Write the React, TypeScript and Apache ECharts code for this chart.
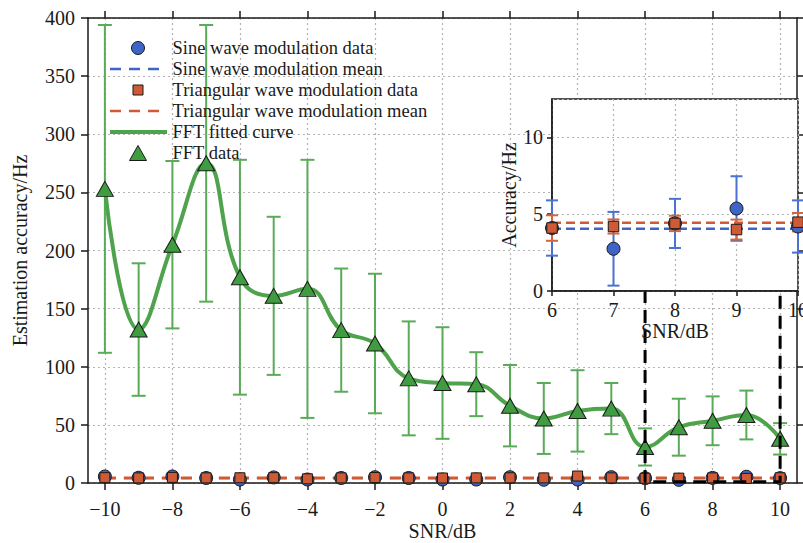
import React, { useEffect, useRef } from 'react';
import * as echarts from 'echarts';

// ---------- data ----------
const snr = [-10, -9, -8, -7, -6, -5, -4, -3, -2, -1, 0, 1, 2, 3, 4, 5, 6, 7, 8, 9, 10];
const fftData = [253, 132, 205, 275, 177, 161, 167, 131.5, 120, 90, 86, 85, 66.5, 55.5, 62, 64, 31, 48, 53.5, 58.5, 38];
const fftErr = [141, 57, 72, 119, 101, 68, 111, 53, 60, 49, 48, 27.5, 35, 30.5, 35, 22, 16, 24.5, 21, 21, 13.5];
const sineData = [5.6, 4.5, 5.6, 4.3, 3.0, 4.8, 3.0, 4.3, 5.0, 4.3, 3.0, 3.0, 5.0, 2.8, 3.0, 5.0, 4.1, 2.75, 4.4, 5.37, 4.2];
const sineErr = [1.7, 1.9, 1.6, 2.0, 1.8, 1.5, 2.1, 1.7, 1.9, 1.6, 2.0, 1.8, 1.7, 2.2, 1.9, 1.6, 1.8, 2.4, 1.6, 2.1, 1.7];
const triData = [4.6, 4.4, 4.8, 4.4, 4.5, 4.6, 3.6, 4.4, 4.7, 4.4, 4.3, 4.4, 4.5, 4.4, 6.0, 4.4, 4.1, 4.2, 4.4, 4.0, 4.48];
const triErr = [0.6, 0.7, 0.5, 0.6, 0.8, 0.6, 0.7, 0.5, 0.6, 0.7, 0.6, 0.5, 0.7, 0.6, 0.8, 0.6, 0.83, 0.46, 0.5, 0.65, 0.6];
const sineMean = 4.06;
const triMean = 4.45;

const mainXTicks = [-10, -8, -6, -4, -2, 0, 2, 4, 6, 8, 10];
const mainXRange = [-10.5, 10.5];
const mainYRange = [0, 400];
const insetX = [6, 7, 8, 9, 10];
const insetYRange = [0, 12.5];
const zoomBoxX = [6, 10];
const zoomBoxY = [1, 166];

const legendLabels = [
  'Sine wave modulation data',
  'Sine wave modulation mean',
  'Triangular wave modulation data',
  'Triangular wave modulation mean',
  'FFT fitted curve',
  'FFT data',
];

// ---------- styles ----------
const FONT = 'Liberation Serif';
const TXT = '#1a1a1a';
const BLUE = '#3e64c6';
const BLUE_ERR = '#4a72d2';
const ORANGE = '#cf5a34';
const ORANGE_ERR = '#d4643f';
const GREEN = '#409c40';
const GREEN_CURVE = '#4fa34c';
const GREEN_ERR = '#5aab58';
const GRID = '#b4b4b4';

const minusFmt = (v: number) => (v < 0 ? '\u2212' + Math.abs(v) : String(v));

const errRender = (color: string, capHalf: number, width: number) => (params: any, api: any) => {
  const x = api.value(0);
  const lo = api.value(1);
  const hi = api.value(2);
  const t = api.coord([x, hi]);
  const b = api.coord([x, lo]);
  const style = { stroke: color, lineWidth: width };
  return {
    type: 'group',
    children: [
      { type: 'line', shape: { x1: t[0], y1: t[1], x2: b[0], y2: b[1] }, style },
      { type: 'line', shape: { x1: t[0] - capHalf, y1: t[1], x2: t[0] + capHalf, y2: t[1] }, style },
      { type: 'line', shape: { x1: b[0] - capHalf, y1: b[1], x2: b[0] + capHalf, y2: b[1] }, style },
    ],
  };
};

const errData = (vals: number[], errs: number[], filter?: (x: number) => boolean) =>
  snr
    .map((x, i) => [x, vals[i] - errs[i], vals[i] + errs[i]])
    .filter((d) => (filter ? filter(d[0]) : true));

const pts = (vals: number[], filter?: (x: number) => boolean) =>
  snr.map((x, i) => [x, vals[i]]).filter((d) => (filter ? filter(d[0]) : true));

const inInset = (x: number) => x >= insetX[0] && x <= insetX[insetX.length - 1];

const axisLine = { show: true, onZero: false, lineStyle: { color: TXT, width: 1.5 } };
const splitDotted = { show: true, lineStyle: { color: GRID, type: [2, 3], width: 1.2 } };
const labelStyle = { fontFamily: FONT, fontSize: 20, color: TXT };

export default function App() {
  const ref = useRef<HTMLDivElement>(null);
  useEffect(() => {
    if (!ref.current) return;
    const chart = echarts.init(ref.current, undefined, { renderer: 'svg' });

    const legendRowY = [48, 69, 90, 111, 132, 153];
    const lx = 138;
    const graphicEls: any[] = [];
    graphicEls.push({ type: 'circle', shape: { cx: lx, cy: legendRowY[0], r: 6.5 }, style: { fill: BLUE, stroke: TXT, lineWidth: 1 }, z: 100 });
    graphicEls.push({ type: 'line', shape: { x1: 110, y1: legendRowY[1], x2: 167, y2: legendRowY[1] }, style: { stroke: BLUE, lineWidth: 2.5, lineDash: [11, 8] }, z: 100 });
    graphicEls.push({ type: 'rect', shape: { x: lx - 5, y: legendRowY[2] - 5, width: 10, height: 10 }, style: { fill: ORANGE, stroke: TXT, lineWidth: 1 }, z: 100 });
    graphicEls.push({ type: 'line', shape: { x1: 110, y1: legendRowY[3], x2: 167, y2: legendRowY[3] }, style: { stroke: ORANGE, lineWidth: 2.5, lineDash: [11, 8] }, z: 100 });
    graphicEls.push({ type: 'line', shape: { x1: 110, y1: legendRowY[4], x2: 167, y2: legendRowY[4] }, style: { stroke: GREEN_CURVE, lineWidth: 4 }, z: 100 });
    graphicEls.push({ type: 'polygon', shape: { points: [[lx - 8.5, legendRowY[5] + 7.5], [lx + 8.5, legendRowY[5] + 7.5], [lx, legendRowY[5] - 7.5]] }, style: { fill: GREEN, stroke: TXT, lineWidth: 1 }, z: 100 });
    legendLabels.forEach((t, i) => {
      graphicEls.push({
        type: 'text',
        x: 172.5,
        y: legendRowY[i],
        style: { text: t, fontFamily: FONT, fontSize: 18.5, fill: TXT, verticalAlign: 'middle', align: 'left' },
        z: 100,
      });
    });

    const option: any = {
      animation: false,
      backgroundColor: '#fff',
      grid: [
        { left: 88, right: 6, top: 18, bottom: 60, show: false, outerBoundsMode: 'none', containLabel: false },
        { left: 552, right: 5, top: 99, height: 192, show: true, backgroundColor: '#fff', borderColor: TXT, borderWidth: 1.5, z: 10, outerBoundsMode: 'none', containLabel: false },
      ],
      xAxis: [
        {
          gridIndex: 0, type: 'value', min: mainXRange[0], max: mainXRange[1], position: 'bottom',
          axisLine, axisTick: { show: true, inside: false, length: 7, customValues: mainXTicks, lineStyle: { color: TXT, width: 1.5 } },
          axisLabel: { ...labelStyle, customValues: mainXTicks, formatter: minusFmt, margin: 16 },
          splitLine: splitDotted,
          name: 'SNR/dB', nameLocation: 'middle', nameGap: 38, nameMoveOverlap: false, nameTextStyle: { ...labelStyle, lineHeight: 20 },
        },
        {
          gridIndex: 0, type: 'value', min: mainXRange[0], max: mainXRange[1], position: 'top',
          axisLine, axisTick: { show: true, inside: false, length: 7, customValues: mainXTicks, lineStyle: { color: TXT, width: 1.5 } },
          axisLabel: { show: false, customValues: mainXTicks }, splitLine: { show: false },
        },
        {
          gridIndex: 1, type: 'value', min: insetX[0], max: insetX[insetX.length - 1], interval: 1, position: 'bottom', z: 11,
          axisLine, axisTick: { show: true, inside: false, length: 5, lineStyle: { color: TXT, width: 1.5 } },
          axisLabel: { ...labelStyle, margin: 9 },
          splitLine: splitDotted,
          name: 'SNR/dB', nameLocation: 'middle', nameGap: 29, nameTextStyle: labelStyle,
        },
      ],
      yAxis: [
        {
          gridIndex: 0, type: 'value', min: mainYRange[0], max: mainYRange[1], interval: 50, position: 'left',
          axisLine, axisTick: { show: true, inside: false, length: 7, lineStyle: { color: TXT, width: 1.5 } },
          axisLabel: { ...labelStyle, margin: 13 },
          splitLine: splitDotted,
          name: 'Estimation accuracy/Hz', nameLocation: 'middle', nameGap: 58, nameTextStyle: labelStyle,
        },
        {
          gridIndex: 0, type: 'value', min: mainYRange[0], max: mainYRange[1], interval: 50, position: 'right',
          axisLine, axisTick: { show: true, inside: false, length: 7, lineStyle: { color: TXT, width: 1.5 } },
          axisLabel: { show: false }, splitLine: { show: false },
        },
        {
          gridIndex: 1, type: 'value', min: insetYRange[0], max: insetYRange[1], interval: 5, position: 'left', z: 11,
          axisLine, axisTick: { show: true, inside: false, length: 5, lineStyle: { color: TXT, width: 1.5 } },
          axisLabel: { ...labelStyle, margin: 9, showMaxLabel: false, formatter: (v: number) => (v % 5 === 0 ? String(v) : '') },
          splitLine: splitDotted,
          name: 'Accuracy/Hz', nameLocation: 'middle', nameGap: 27, nameTextStyle: labelStyle,
        },
      ],
      series: [
        // ----- main -----
        { type: 'custom', xAxisIndex: 0, yAxisIndex: 0, renderItem: errRender(BLUE_ERR, 6, 1.5), data: errData(sineData, sineErr), encode: { x: 0, y: [1, 2] }, z: 2, silent: true },
        { type: 'custom', xAxisIndex: 0, yAxisIndex: 0, renderItem: errRender(ORANGE_ERR, 6, 1.5), data: errData(triData, triErr), encode: { x: 0, y: [1, 2] }, z: 2, silent: true },
        { type: 'custom', xAxisIndex: 0, yAxisIndex: 0, renderItem: errRender(GREEN_ERR, 7, 2), data: errData(fftData, fftErr), encode: { x: 0, y: [1, 2] }, z: 2, silent: true },
        { type: 'line', xAxisIndex: 0, yAxisIndex: 0, data: [[snr[0], sineMean], [snr[snr.length - 1], sineMean]], symbol: 'none', lineStyle: { color: BLUE, width: 2.5, type: [11, 8] }, z: 3 },
        { type: 'scatter', xAxisIndex: 0, yAxisIndex: 0, data: pts(sineData), symbol: 'circle', symbolSize: 13, itemStyle: { color: BLUE, borderColor: TXT, borderWidth: 1, opacity: 1 }, z: 4 },
        { type: 'scatter', xAxisIndex: 0, yAxisIndex: 0, data: pts(triData), symbol: 'rect', symbolSize: 10, itemStyle: { color: ORANGE, borderColor: TXT, borderWidth: 1, opacity: 1 }, z: 4 },
        { type: 'line', xAxisIndex: 0, yAxisIndex: 0, data: [[snr[0], triMean], [snr[snr.length - 1], triMean]], symbol: 'none', lineStyle: { color: ORANGE, width: 2.5, type: [11, 8] }, z: 4 },
        { type: 'line', xAxisIndex: 0, yAxisIndex: 0, data: pts(fftData), smooth: 0.45, symbol: 'none', lineStyle: { color: GREEN_CURVE, width: 4 }, z: 4 },
        { type: 'scatter', xAxisIndex: 0, yAxisIndex: 0, data: pts(fftData), symbol: 'triangle', symbolSize: [17, 15], itemStyle: { color: GREEN, borderColor: TXT, borderWidth: 1, opacity: 1 }, z: 5 },
        {
          type: 'line', xAxisIndex: 0, yAxisIndex: 0,
          data: [[zoomBoxX[0], zoomBoxY[1]], [zoomBoxX[0], zoomBoxY[0]], [zoomBoxX[1], zoomBoxY[0]], [zoomBoxX[1], zoomBoxY[1]]],
          symbol: 'none', lineStyle: { color: '#000', width: 3, type: [13, 7] }, z: 6, clip: false,
        },
        // ----- inset -----
        { type: 'line', xAxisIndex: 2, yAxisIndex: 2, data: [[insetX[0], sineMean], [insetX[insetX.length - 1], sineMean]], symbol: 'none', lineStyle: { color: BLUE, width: 2.5, type: [9, 5] }, z: 12 },
        { type: 'line', xAxisIndex: 2, yAxisIndex: 2, data: [[insetX[0], triMean], [insetX[insetX.length - 1], triMean]], symbol: 'none', lineStyle: { color: ORANGE, width: 2.5, type: [9, 5] }, z: 12 },
        { type: 'custom', xAxisIndex: 2, yAxisIndex: 2, renderItem: errRender(BLUE_ERR, 6, 2), data: errData(sineData, sineErr, inInset), encode: { x: 0, y: [1, 2] }, z: 13, clip: false, silent: true },
        { type: 'custom', xAxisIndex: 2, yAxisIndex: 2, renderItem: errRender(ORANGE_ERR, 6, 2), data: errData(triData, triErr, inInset), encode: { x: 0, y: [1, 2] }, z: 13, clip: false, silent: true },
        { type: 'scatter', xAxisIndex: 2, yAxisIndex: 2, data: pts(sineData, inInset), symbol: 'circle', symbolSize: 13, itemStyle: { color: BLUE, borderColor: TXT, borderWidth: 1, opacity: 1 }, z: 14, clip: false },
        { type: 'scatter', xAxisIndex: 2, yAxisIndex: 2, data: pts(triData, inInset), symbol: 'rect', symbolSize: 10.5, itemStyle: { color: ORANGE, borderColor: TXT, borderWidth: 1, opacity: 1 }, z: 14, clip: false },
      ],
      graphic: graphicEls,
    };
    chart.setOption(option);
    return () => chart.dispose();
  }, []);
  return <div ref={ref} style={{ position: 'absolute', left: 0, top: 0, width: 803, height: 543 }} />;
}
